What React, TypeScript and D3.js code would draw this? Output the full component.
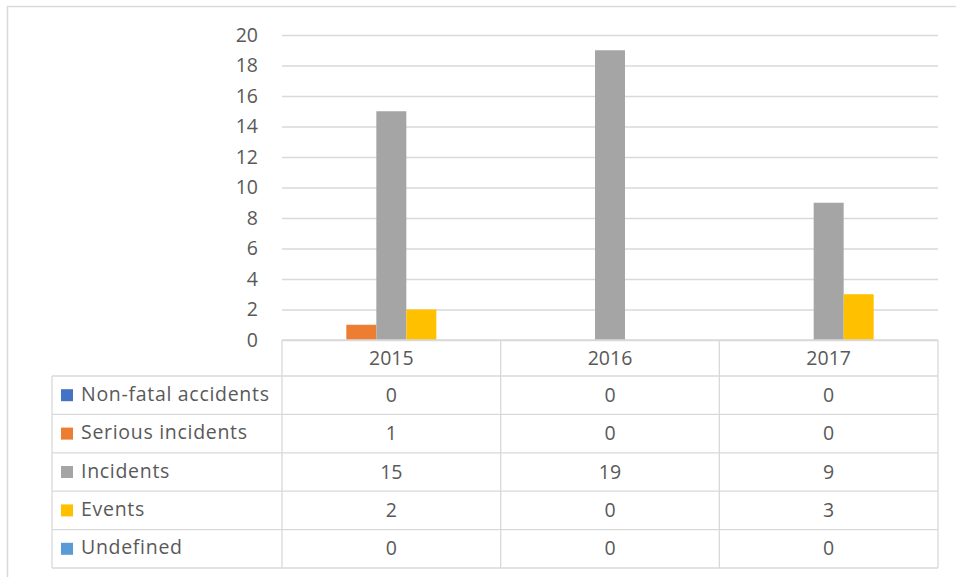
import React, { useEffect, useRef } from 'react'
import * as d3 from 'd3'

const categories = ['2015', '2016', '2017']
const seriesNames = ['Non-fatal accidents', 'Serious incidents', 'Incidents', 'Events', 'Undefined']
const nonFatal = [0, 0, 0]
const serious = [1, 0, 0]
const incidents = [15, 19, 9]
const events = [2, 0, 3]
const undefinedVals = [0, 0, 0]
const yTicks = [0, 2, 4, 6, 8, 10, 12, 14, 16, 18, 20]
const colors = ['#4472C4', '#ED7D31', '#A5A5A5', '#FFC000', '#5B9BD5']

const W = 956
const H = 577
const FONT = "'Segoe UI', 'Open Sans', sans-serif"
const TEXT = '#595959'
const GRID = '#d9d9d9'

export default function App() {
  const svgRef = useRef<SVGSVGElement>(null)

  useEffect(() => {
    const svg = d3.select(svgRef.current)
    svg.selectAll('*').remove()

    const values = [nonFatal, serious, incidents, events, undefinedVals]
    const left = 282
    const right = 938
    const tableLeft = 52
    const headerBottom = 376
    const rowH = 38.4

    const x = d3.scaleBand().domain(categories).range([left, right])
    const y = d3.scaleLinear().domain([0, 20]).range([340, 35])
    const groupW = x.bandwidth() * 0.686
    const xs = d3.scaleBand().domain(seriesNames).range([0, groupW])

    // outer frame
    svg.append('rect')
      .attr('x', 7.5).attr('y', 6.5)
      .attr('width', 980).attr('height', 600)
      .attr('fill', 'none').attr('stroke', GRID).attr('stroke-width', 1.5)

    // gridlines + y labels
    const yAxis = d3.axisLeft(y).tickValues(yTicks).tickSize(-(right - left)).tickPadding(24)
    const ga = svg.append('g').attr('transform', `translate(${left},0)`).call(yAxis)
    ga.select('.domain').remove()
    ga.selectAll('line').attr('stroke', GRID).attr('stroke-width', 1.3)
    ga.selectAll('text')
      .attr('fill', TEXT)
      .style('font-family', FONT)
      .style('font-size', '19.5px')

    // bars
    seriesNames.forEach((name, si) => {
      svg.append('g')
        .selectAll('rect')
        .data(values[si])
        .join('rect')
        .attr('x', (d, i) => (x(categories[i]) as number) + (x.bandwidth() - groupW) / 2 + (xs(name) as number))
        .attr('y', d => y(d))
        .attr('width', xs.bandwidth())
        .attr('height', d => y(0) - y(d))
        .attr('fill', colors[si])
    })

    // data table
    const tbl = svg.append('g').attr('stroke', GRID).attr('stroke-width', 1.3)
    const tableBottom = headerBottom + rowH * seriesNames.length
    tbl.append('line').attr('x1', left).attr('x2', right).attr('y1', y(0)).attr('y2', y(0))
    d3.range(seriesNames.length + 1).forEach(r => {
      const yy = headerBottom + r * rowH
      tbl.append('line').attr('x1', tableLeft).attr('x2', right).attr('y1', yy).attr('y2', yy)
    })
    tbl.append('line').attr('x1', tableLeft).attr('x2', tableLeft).attr('y1', headerBottom).attr('y2', tableBottom)
    ;[...categories.map(c => x(c) as number), right].forEach(xx => {
      tbl.append('line').attr('x1', xx).attr('x2', xx).attr('y1', y(0)).attr('y2', tableBottom)
    })

    const txt = svg.append('g')
      .style('font-family', FONT)
      .style('font-size', '19.5px')
      .attr('fill', TEXT)

    categories.forEach((c, i) => {
      const cx = (x(c) as number) + x.bandwidth() / 2
      txt.append('text')
        .attr('x', cx).attr('y', (y(0) + headerBottom) / 2 - 1)
        .attr('text-anchor', 'middle').attr('dominant-baseline', 'central')
        .text(c)
      seriesNames.forEach((name, si) => {
        txt.append('text')
          .attr('x', cx).attr('y', headerBottom + rowH * (si + 0.5) - 1)
          .attr('text-anchor', 'middle').attr('dominant-baseline', 'central')
          .text(values[si][i])
      })
    })

    seriesNames.forEach((name, si) => {
      const cy = headerBottom + rowH * (si + 0.5)
      svg.append('rect')
        .attr('x', 61).attr('y', cy - 6)
        .attr('width', 12).attr('height', 12)
        .attr('fill', colors[si])
      txt.append('text')
        .attr('x', 81).attr('y', cy - 2)
        .attr('dominant-baseline', 'central')
        .style('letter-spacing', '0.7px')
        .text(name)
    })
  }, [])

  return (
    <svg
      ref={svgRef}
      width={W}
      height={H}
      style={{ position: 'absolute', left: 0, top: 0, background: '#fff' }}
    />
  )
}
